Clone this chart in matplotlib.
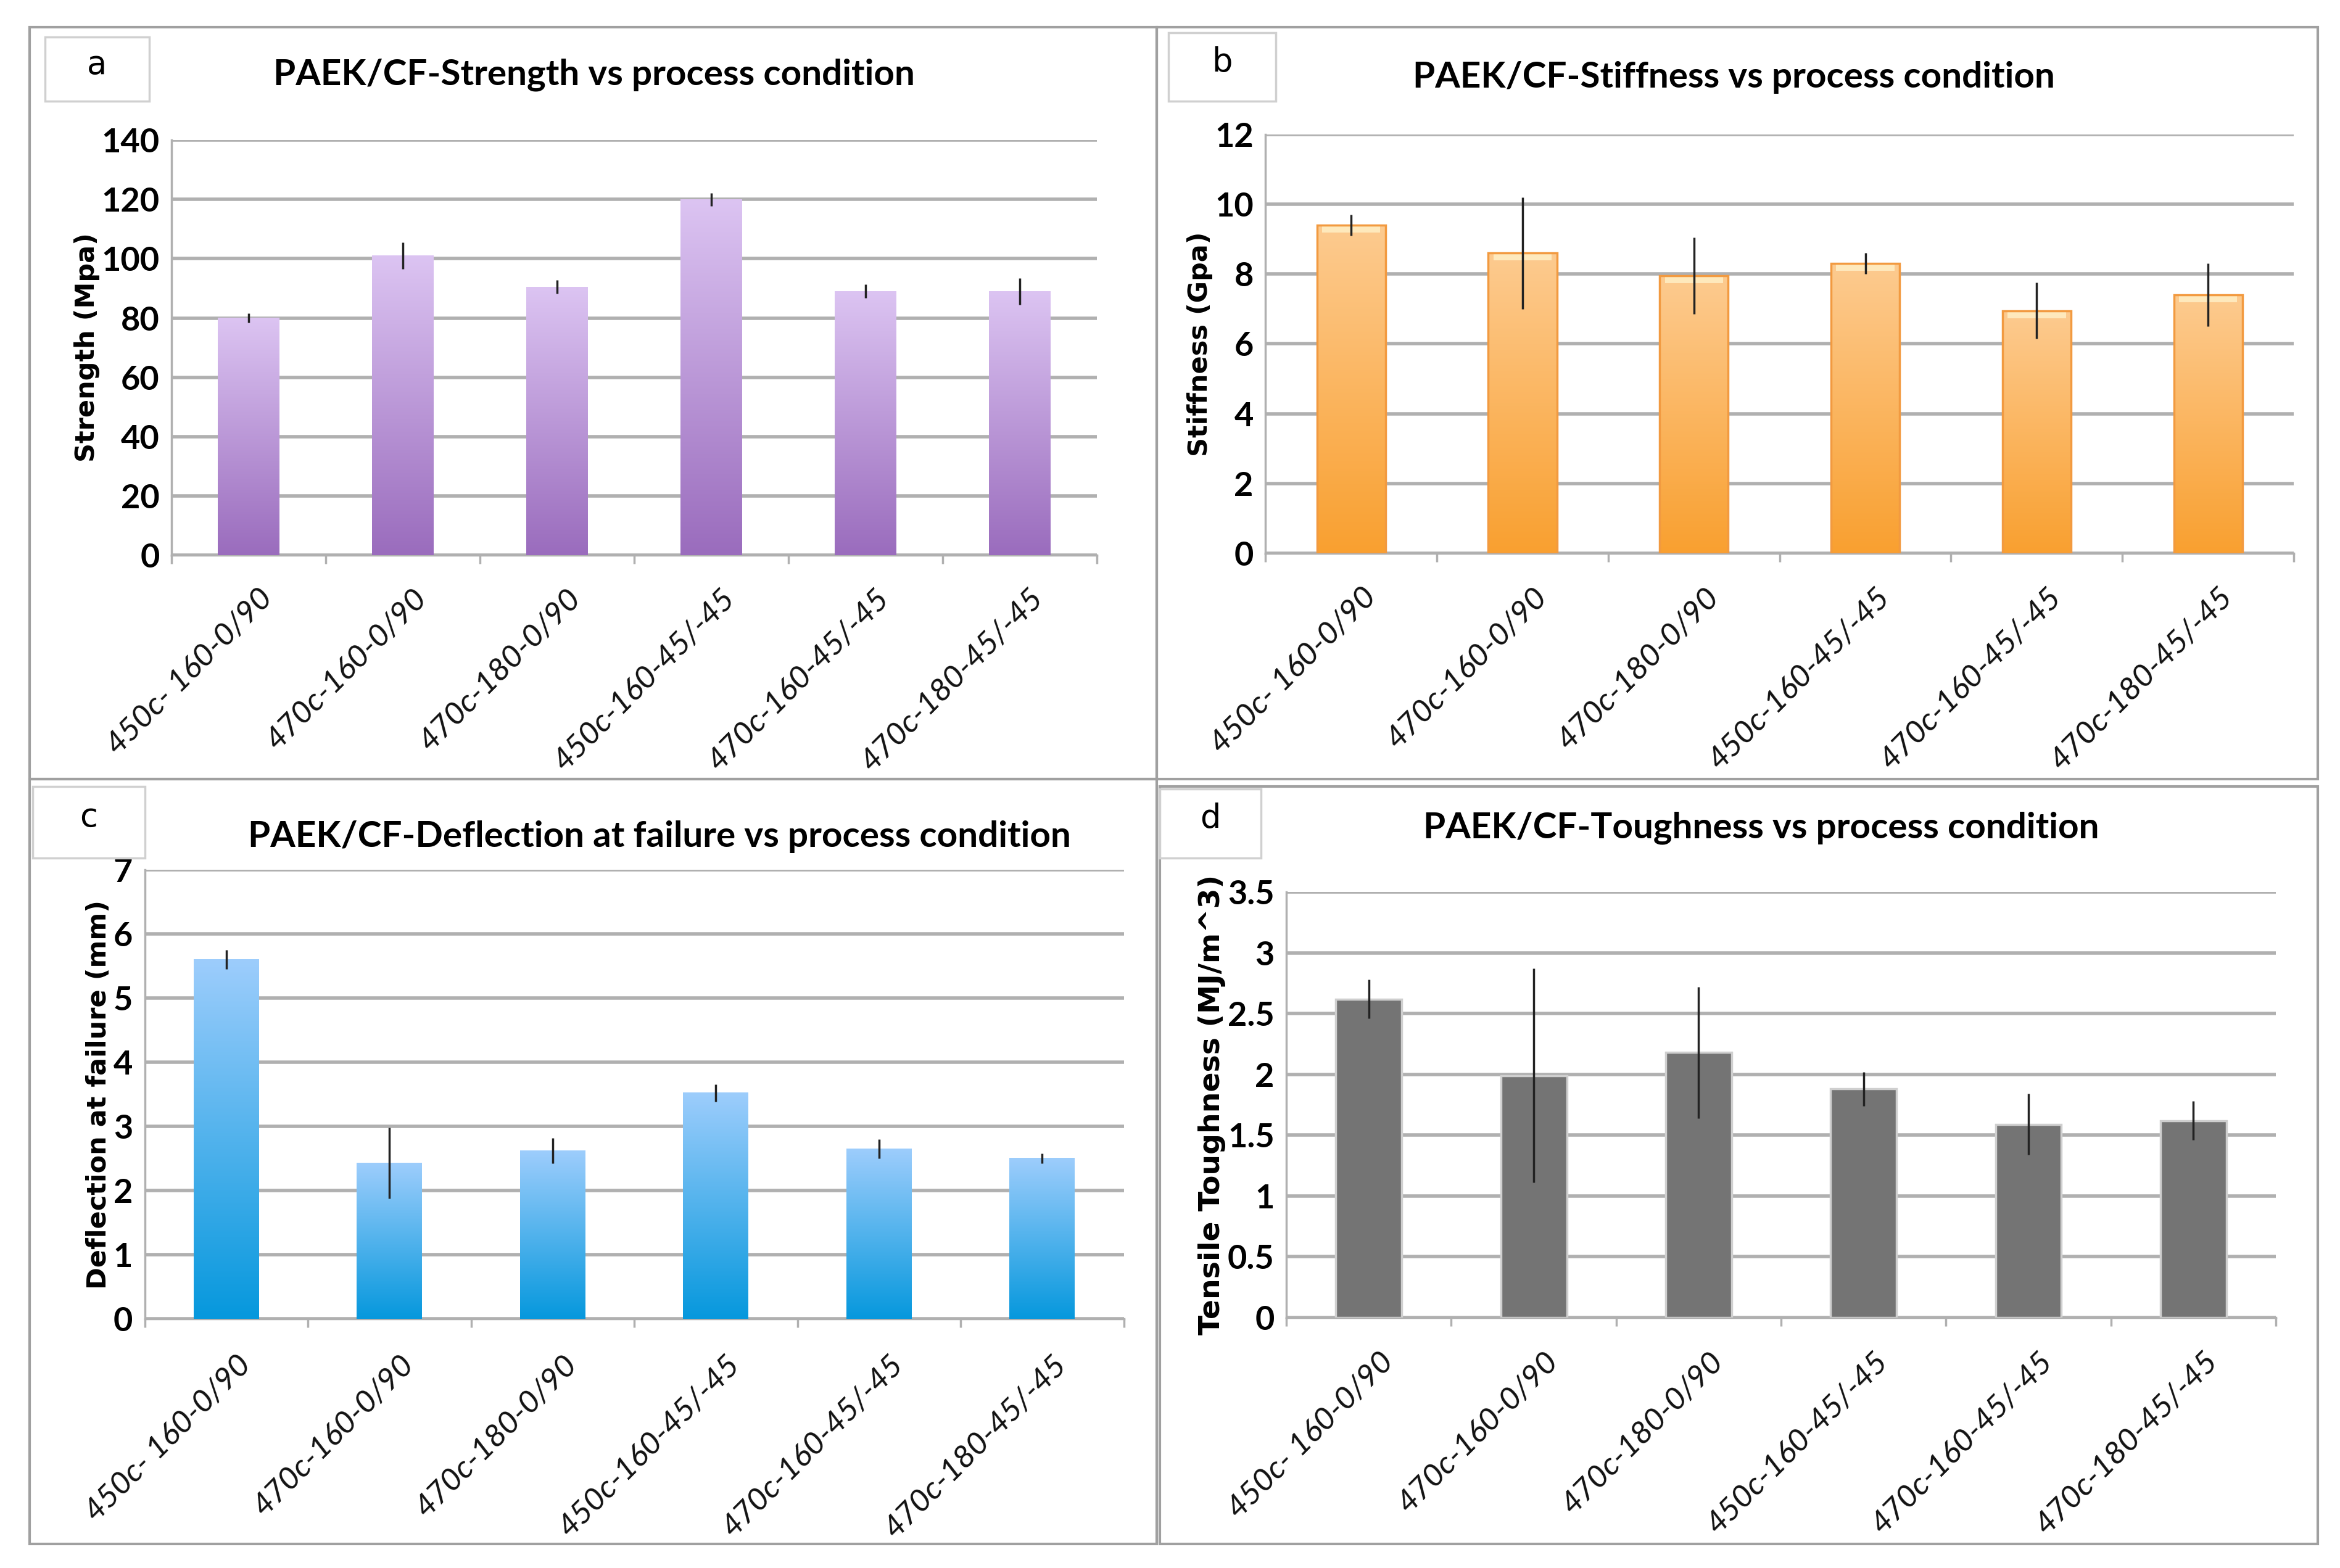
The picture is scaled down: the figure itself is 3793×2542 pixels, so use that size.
import numpy as np
import matplotlib

matplotlib.use("Agg")
import matplotlib.pyplot as plt  # noqa: E402
from matplotlib.colors import LinearSegmentedColormap  # noqa: E402
from matplotlib.patches import Rectangle  # noqa: E402

conditions = ["450c- 160-0/90", "470c-160-0/90", "470c-180-0/90",
              "450c-160-45/-45", "470c-160-45/-45", "470c-180-45/-45"]

strength = [80, 101, 90.5, 120, 89, 89]
strength_err = [1.5, 4.5, 2.3, 2.2, 2.3, 4.5]

stiffness = [9.4, 8.6, 7.95, 8.3, 6.95, 7.4]
stiffness_err = [0.3, 1.6, 1.1, 0.3, 0.8, 0.9]

deflection = [5.6, 2.43, 2.62, 3.52, 2.65, 2.5]
deflection_err = [0.15, 0.55, 0.2, 0.13, 0.15, 0.08]

toughness = [2.62, 1.99, 2.18, 1.88, 1.59, 1.62]
toughness_err = [0.16, 0.88, 0.54, 0.14, 0.25, 0.16]

W, H = 3793, 2542
DPI = 100
fig = plt.figure(figsize=(W / DPI, H / DPI), dpi=DPI)

FONT = "Lato"
GRID = "#b0b0b0"


def fx(px):
    return px / 1568.0


def fy(py):
    return 1 - py / 1051.0


def panel(rect_px, axes_px, label_px, letter, title, title_xy, ylabel, ylabel_size,
          values, errs, ymax, step, cmap_colors, edge=None, highlight=None):
    # panel frame
    x0, y0, x1, y1 = rect_px
    fig.patches.append(Rectangle((fx(x0), fy(y1)), fx(x1 - x0), fy(y0) - fy(y1),
                                 transform=fig.transFigure, fill=False,
                                 edgecolor="#a0a0a0", lw=3, zorder=0))
    # letter box
    lx0, ly0, lx1, ly1 = label_px
    fig.patches.append(Rectangle((fx(lx0), fy(ly1)), fx(lx1 - lx0), fy(ly0) - fy(ly1),
                                 transform=fig.transFigure, facecolor="white",
                                 edgecolor="#d0d0d0", lw=2.5, zorder=1))
    fig.text(fx((lx0 + lx1) / 2), fy((ly0 + ly1) / 2) + 0.003, letter,
             ha="center", va="center", fontsize=38, family="DejaVu Sans")
    fig.text(fx(title_xy[0]), fy(title_xy[1]), title, ha="center", va="center",
             fontsize=42, fontweight="bold", family=FONT)

    ax0, ay0, ax1, ay1 = axes_px
    ax = fig.add_axes([fx(ax0), fy(ay1), fx(ax1 - ax0), fy(ay0) - fy(ay1)])
    x = np.arange(len(values))
    bars = ax.bar(x, values, width=0.4, color="none", zorder=3)

    if len(cmap_colors) == 1:
        for b in bars:
            b.set_facecolor(cmap_colors[0])
            b.set_edgecolor("#cfcfcf")
            b.set_linewidth(2.5)
    else:
        cmap = LinearSegmentedColormap.from_list("g", cmap_colors)
        grad = np.linspace(0, 1, 256).reshape(-1, 1)
        for b in bars:
            ax.imshow(grad, extent=[b.get_x(), b.get_x() + b.get_width(), 0, b.get_height()],
                      aspect="auto", cmap=cmap, origin="upper", zorder=3,
                      interpolation="bilinear")
            if highlight is not None:
                hh = 0.018 * ymax
                ax.add_patch(Rectangle((b.get_x() + 0.03, b.get_height() - hh),
                                       b.get_width() - 0.06, hh,
                                       facecolor=highlight, edgecolor="none",
                                       alpha=0.8, zorder=4))
            if edge is not None:
                ax.add_patch(Rectangle((b.get_x(), 0), b.get_width(), b.get_height(),
                                       fill=False, edgecolor=edge, lw=2.5, zorder=4))

    ax.errorbar(x, values, yerr=errs, fmt="none", ecolor="#222222",
                elinewidth=2.5, capsize=0, zorder=5)

    ax.set_xlim(-0.5, len(values) - 0.5)
    ax.set_ylim(0, ymax)
    ticks = np.arange(0, ymax + step / 2, step)
    ax.set_yticks(ticks)
    ax.set_yticklabels([f"{t:g}" for t in ticks], fontsize=39,
                       fontweight="bold", family=FONT)
    ax.yaxis.grid(True, color=GRID, lw=4, zorder=0)
    ax.set_axisbelow(True)
    ax.tick_params(axis="y", length=0, pad=14)

    ax.set_xticks(np.arange(-0.5, len(values), 1.0))
    ax.set_xticklabels([])
    ax.tick_params(axis="x", direction="out", length=10, width=2.5, color=GRID)
    for xi, lab in zip(x, conditions):
        ax.text(xi + 0.06, -0.07 * ymax, lab, rotation=45, ha="right", va="top",
                rotation_mode="anchor", fontsize=37, style="italic",
                family=FONT, color="#111111")

    for s in ["top", "right"]:
        ax.spines[s].set_visible(False)
    ax.spines["left"].set_color(GRID)
    ax.spines["left"].set_linewidth(2.5)
    ax.spines["bottom"].set_color(GRID)
    ax.spines["bottom"].set_linewidth(2.5)
    ax.set_ylabel(ylabel, fontsize=ylabel_size, fontweight="bold",
                  family="DejaVu Sans", labelpad=2)
    return ax


panel((20, 18, 775, 522), (115, 94, 735, 372), (30, 25, 100, 68), "a",
      "PAEK/CF-Strength vs process condition", (398, 50), "Strength (Mpa)", 31,
      strength, strength_err, 140, 20, ["#dcc4f2", "#9a6cbd"])

panel((775, 18, 1553, 522), (848, 90, 1537, 371), (783, 22, 855, 68), "b",
      "PAEK/CF-Stiffness vs process condition", (1162, 52), "Stiffness (Gpa)", 31,
      stiffness, stiffness_err, 12, 2, ["#fdcb90", "#f9a030"], edge="#f29a40",
      highlight="#fff1c8")

panel((20, 522, 775, 1035), (97, 583, 753, 884), (22, 527, 97, 575), "c",
      "PAEK/CF-Deflection at failure vs process condition", (442, 561),
      "Deflection at failure (mm)", 31,
      deflection, deflection_err, 7, 1, ["#9dcdfc", "#0698dd"])

panel((777, 527, 1553, 1035), (862, 598, 1525, 883), (777, 529, 845, 575), "d",
      "PAEK/CF-Toughness vs process condition", (1180, 555),
      "Tensile Toughness (MJ/m^3)", 34,
      toughness, toughness_err, 3.5, 0.5, ["#747474"])

fig.savefig("out.png", dpi=DPI)
